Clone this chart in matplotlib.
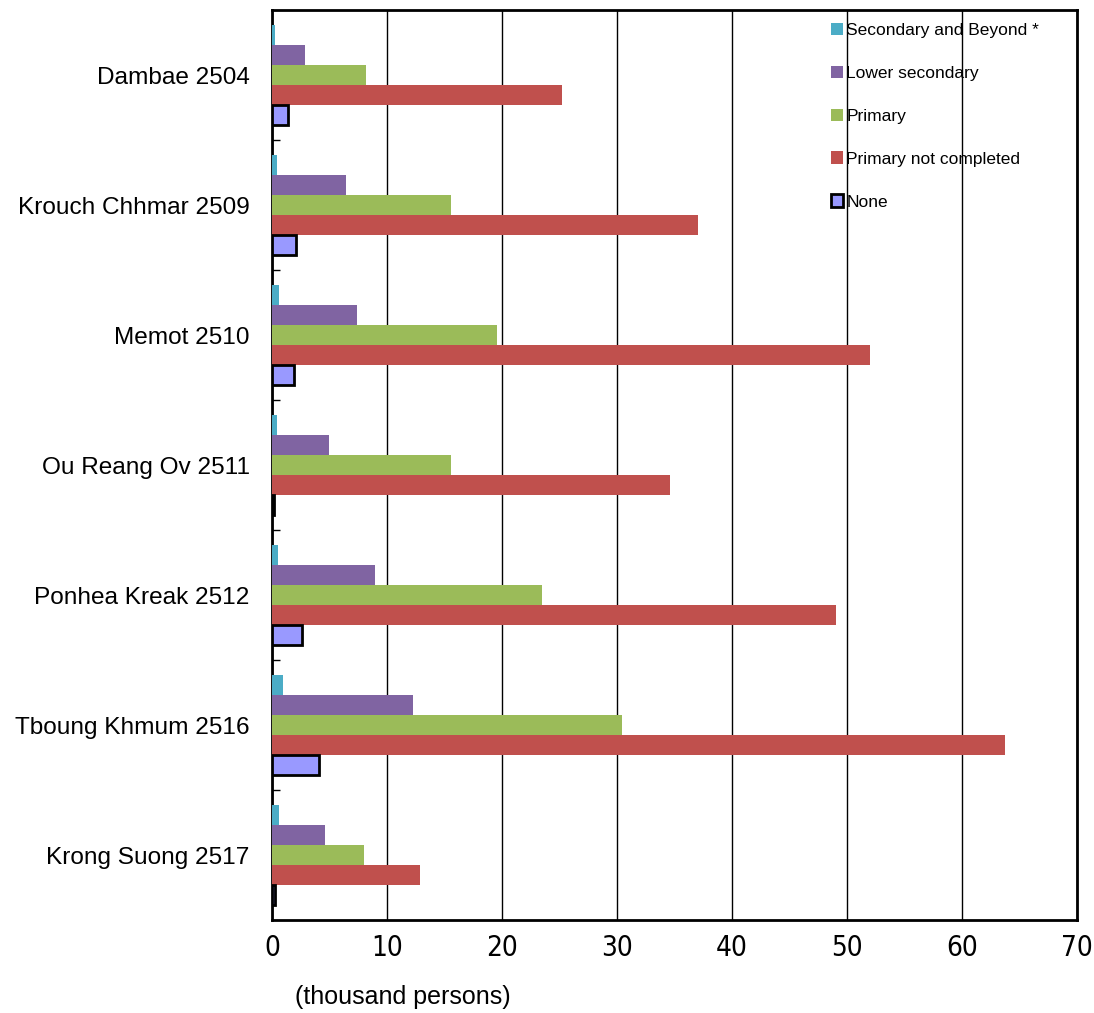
import matplotlib
matplotlib.use("Agg")
import matplotlib.pyplot as plt
from matplotlib import font_manager
import numpy as np

categories = ["Dambae 2504", "Krouch Chhmar 2509", "Memot 2510", "Ou Reang Ov 2511",
              "Ponhea Kreak 2512", "Tboung Khmum 2516", "Krong Suong 2517"]
series_names = ["Secondary and Beyond *", "Lower secondary", "Primary",
                "Primary not completed", "None"]
secondary_beyond = [0.25, 0.4, 0.6, 0.4, 0.5, 0.95, 0.6]
lower_secondary = [2.9, 6.4, 7.4, 4.95, 8.95, 12.25, 4.6]
primary = [8.2, 15.6, 19.6, 15.6, 23.5, 30.4, 8.0]
primary_not_completed = [25.2, 37.0, 52.0, 34.6, 49.0, 63.7, 12.85]
none_edu = [1.4, 2.1, 1.95, 0.2, 2.6, 4.1, 0.25]
x_ticks = [0, 10, 20, 30, 40, 50, 60, 70]

fonts = font_manager.fontManager.ttflist
cond = [f for f in fonts if f.name == "DejaVu Sans" and "ondensed" in f.fname and "Bold" not in f.fname and "Oblique" not in f.fname]
if cond:
    tick_font = font_manager.FontProperties(fname=cond[0].fname, size=20)
else:
    tick_font = font_manager.FontProperties(family="DejaVu Sans", size=19)
plt.rcParams['font.family'] = ['Liberation Sans', 'DejaVu Sans']

fig = plt.figure(figsize=(10.94, 10.13), dpi=100)
ax = fig.add_axes([0.2486, 0.0918, 0.9845 - 0.2486, 0.990 - 0.0918])

series = [secondary_beyond, lower_secondary, primary, primary_not_completed, none_edu]
colors = ["#4BACC6", "#8064A2", "#9BBB59", "#C0504D", "#9999FF"]
h = 0.154
y = np.arange(len(categories))
for k, (vals, c, name) in enumerate(zip(series, colors, series_names)):
    off = (k - 2) * h
    if name == "None":
        ax.barh(y + off, vals, height=h, color=c, edgecolor="black", linewidth=2,
                label=name, zorder=3)
    else:
        ax.barh(y + off, vals, height=h, color=c, edgecolor="none", label=name, zorder=3)

ax.set_xlim(0, 70)
ax.set_ylim(len(categories) - 0.5, -0.5)
ax.set_xticks(x_ticks)
ax.set_xticklabels([str(t) for t in x_ticks])
for lbl in ax.get_xticklabels():
    lbl.set_fontproperties(tick_font)
ax.tick_params(axis='x', length=0, pad=10)
ax.xaxis.grid(True, color="black", linewidth=1.0, zorder=0)
ax.set_axisbelow(True)

ax.set_yticks(y)
ax.set_yticklabels(categories, fontsize=17.6)
ax.tick_params(axis='y', which='major', length=0, pad=16)
ax.set_yticks(np.arange(len(categories) - 1) + 0.5, minor=True)
ax.tick_params(axis='y', which='minor', direction='in', length=6, width=1, color="black")

for s in ax.spines.values():
    s.set_linewidth(2)
    s.set_color("black")

leg = ax.legend(loc="upper left", bbox_to_anchor=((821 - 272) / 805, 1 - 3 / 910), frameon=False,
                fontsize=12.5, labelspacing=1.6, handlelength=0.7, handleheight=0.7,
                handletextpad=0.2, borderaxespad=0.25, borderpad=0.3)

fig.text(403 / 1094, 1 - 997 / 1013, "(thousand persons)", fontsize=18, ha="center", va="center")

fig.savefig("out.png", dpi=100)
